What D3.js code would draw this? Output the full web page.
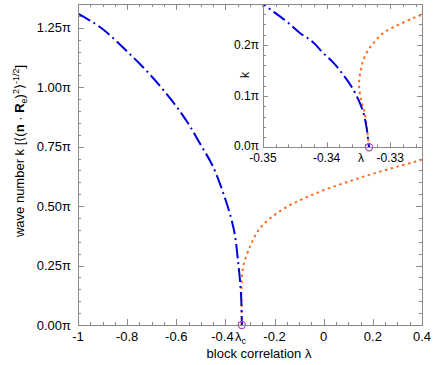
<!DOCTYPE html>
<html>
<head>
<meta charset="utf-8">
<script src="https://cdn.jsdelivr.net/npm/d3@7"></script>
<style>
  body { margin: 0; background: #fff; }
  text { font-family: "Liberation Sans", Arial, sans-serif; }
</style>
</head>
<body>
<svg id="chart" width="436" height="365"></svg>
<script>
// blue branch (k in units of pi)
let blueLambda = [-1, -0.95, -0.9, -0.85, -0.8, -0.75, -0.7, -0.65, -0.6, -0.55, -0.5, -0.45, -0.4, -0.375, -0.36,
    -0.3494, -0.3463, -0.3442, -0.3423, -0.3405, -0.3389, -0.3374, -0.3361, -0.335, -0.3342, -0.3337, -0.3334, -0.33333]
let blueK = [1.31, 1.28, 1.245, 1.2, 1.15, 1.1, 1.045, 0.985, 0.92, 0.845, 0.757, 0.665, 0.528, 0.442, 0.37,
    0.2745, 0.246, 0.2235, 0.207, 0.184, 0.165, 0.142, 0.119, 0.093, 0.067, 0.037, 0.008, 0]

// orange branch
let orangeLambda = [-0.33333, -0.334, -0.3346, -0.3349, -0.3346, -0.3342, -0.3334, -0.3324, -0.3311, -0.3292, -0.3272, -0.325,
    -0.3, -0.275, -0.25, -0.2, -0.15, -0.1, -0.05, 0, 0.1, 0.2, 0.3, 0.4]
let orangeK = [0, 0.067, 0.093, 0.125, 0.152, 0.171, 0.191, 0.207, 0.2235, 0.2365, 0.248, 0.259,
    0.33, 0.383, 0.418, 0.463, 0.497, 0.523, 0.546, 0.567, 0.603, 0.636, 0.666, 0.695]

let lambdaC = -1 / 3

let xTicks = [-1, -0.8, -0.6, -0.4, -0.2, 0, 0.2, 0.4]
let yTicks = [0, 0.25, 0.5, 0.75, 1, 1.25]
let insetXTicks = [-0.35, -0.34, -0.33]
let insetYTicks = [0, 0.1, 0.2]

let blueData = blueLambda.map((l, i) => [l, blueK[i]])
let orangeData = orangeLambda.map((l, i) => [l, orangeK[i]])

let svg = d3.select('#chart')
let frameColor = '#8a8a8a'

let rng = (a, b, step) => {
    let out = []
    let n = Math.round((b - a) / step)
    for (let i = 0; i <= n; i++) out.push(Math.round((a + i * step) * 10000) / 10000)
    return out
}

let drawPanel = (g, opt) => {
    let x = opt.x, y = opt.y
    let [x0, x1] = x.range()
    let [y0, y1] = y.range()

    g.append('rect')
        .attr('x', x0).attr('y', y1)
        .attr('width', x1 - x0).attr('height', y0 - y1)
        .attr('fill', '#fff')

    let clipId = opt.name + '-clip'
    g.append('clipPath').attr('id', clipId)
        .append('rect')
        .attr('x', x0).attr('y', y1)
        .attr('width', x1 - x0).attr('height', y0 - y1)

    // minor ticks then major ticks on all four sides, pointing inward
    let tickGroup = g.append('g').attr('stroke', frameColor).attr('stroke-width', 1)
    let addTicks = (vals, len) => {
        vals.forEach(v => {
            let px = Math.round(x(v)) + 0.5
            tickGroup.append('line').attr('x1', px).attr('x2', px).attr('y1', y0).attr('y2', y0 - len)
            tickGroup.append('line').attr('x1', px).attr('x2', px).attr('y1', y1).attr('y2', y1 + len)
        })
    }
    let addYTicks = (vals, len) => {
        vals.forEach(v => {
            let py = Math.round(y(v)) + 0.5
            tickGroup.append('line').attr('y1', py).attr('y2', py).attr('x1', x0).attr('x2', x0 + len)
            tickGroup.append('line').attr('y1', py).attr('y2', py).attr('x1', x1).attr('x2', x1 - len)
        })
    }
    addTicks(opt.xMinor, opt.minorLen)
    addTicks(opt.xMajor, opt.majorLen)
    addYTicks(opt.yMinor, opt.minorLen)
    addYTicks(opt.yMajor, opt.majorLen)

    let line = d3.line()
        .x(d => x(d[0]))
        .y(d => y(d[1]))
        .curve(d3.curveCatmullRom.alpha(0.5))

    let curves = g.append('g').attr('clip-path', 'url(#' + clipId + ')')
    curves.append('path')
        .datum(orangeData)
        .attr('d', line)
        .attr('fill', 'none')
        .attr('stroke', '#ff6a22')
        .attr('stroke-width', 2)
        .attr('stroke-dasharray', '2.5,3.5')
    curves.append('path')
        .datum(blueData)
        .attr('d', line)
        .attr('fill', 'none')
        .attr('stroke', '#0000dd')
        .attr('stroke-width', 2)
        .attr('stroke-dasharray', '14,4,2,4')

    g.append('circle')
        .attr('cx', x(lambdaC)).attr('cy', y(0))
        .attr('r', 3.6)
        .attr('fill', 'none')
        .attr('stroke', '#b044c0')
        .attr('stroke-width', 1.2)

    g.append('rect')
        .attr('x', Math.round(x0) + 0.5).attr('y', Math.round(y1) + 0.5)
        .attr('width', Math.round(x1 - x0)).attr('height', Math.round(y0 - y1))
        .attr('fill', 'none')
        .attr('stroke', frameColor)

    // tick labels
    g.append('g').selectAll('text')
        .data(opt.xMajor)
        .join('text')
        .attr('x', d => x(d) + (opt.xShift ? opt.xShift(d) : 0))
        .attr('y', y0 + opt.xLabelDy)
        .attr('text-anchor', 'middle')
        .attr('font-size', opt.fontSize)
        .text(opt.xFormat)
    g.append('g').selectAll('text')
        .data(opt.yMajor)
        .join('text')
        .attr('x', x0 - opt.yLabelDx)
        .attr('y', d => y(d) + opt.fontSize * 0.36 + (opt.yShift ? opt.yShift(d) : 0))
        .attr('text-anchor', 'end')
        .attr('font-size', opt.fontSize)
        .text(opt.yFormat)
}

// main panel
let xMain = d3.scaleLinear().domain([-1, 0.4]).range([78, 422])
let yMain = d3.scaleLinear().domain([0, 1.35]).range([325, 4])

drawPanel(svg.append('g'), {
    name: 'main', x: xMain, y: yMain,
    xMajor: xTicks, xMinor: rng(-1, 0.4, 0.05),
    yMajor: yTicks, yMinor: rng(0, 1.35, 0.05),
    majorLen: 6, minorLen: 3,
    fontSize: 13, xLabelDy: 16, yLabelDx: 7,
    xShift: d => d === -0.4 ? -3 : 0,
    xFormat: d => String(+d.toFixed(1)),
    yFormat: d => d.toFixed(2) + 'π'
})

svg.append('text')
    .attr('x', 235).attr('y', 341)
    .attr('font-size', 13)
    .text('λ')
    .append('tspan').attr('font-size', 9).attr('dy', 3).text('c')

svg.append('text')
    .attr('x', 259).attr('y', 358)
    .attr('text-anchor', 'middle')
    .attr('font-size', 13)
    .text('block correlation λ')

let yLab = svg.append('text')
    .attr('transform', 'translate(24,151) rotate(-90)')
    .attr('text-anchor', 'middle')
    .attr('font-size', 13)
yLab.append('tspan').text('wave number k [⟨(')
yLab.append('tspan').attr('font-weight', 'bold').text('n')
yLab.append('tspan').text(' · ')
yLab.append('tspan').attr('font-weight', 'bold').text('R')
yLab.append('tspan').attr('font-size', 9).attr('dy', 3).text('e')
yLab.append('tspan').attr('dy', -3).text(')')
yLab.append('tspan').attr('font-size', 9).attr('dy', -5).text('2')
yLab.append('tspan').attr('dy', 5).text('⟩')
yLab.append('tspan').attr('font-size', 9).attr('dy', -5).text('-1/2')
yLab.append('tspan').attr('dy', 5).text(']')

// inset panel
let xIn = d3.scaleLinear().domain([-0.35, -0.325]).range([263, 422])
let yIn = d3.scaleLinear().domain([0, 0.28]).range([147.3, 4])

drawPanel(svg.append('g'), {
    name: 'inset', x: xIn, y: yIn,
    xMajor: insetXTicks, xMinor: rng(-0.35, -0.326, 0.002),
    yMajor: insetYTicks, yMinor: rng(0, 0.28, 0.02),
    majorLen: 5, minorLen: 3,
    fontSize: 12, xLabelDy: 15, yLabelDx: 4,
    yShift: d => d === 0 ? -2 : 0,
    xFormat: d => d.toFixed(2),
    yFormat: d => d.toFixed(1) + 'π'
})

svg.append('text')
    .attr('x', xIn(lambdaC) - 8).attr('y', 162)
    .attr('text-anchor', 'middle')
    .attr('font-size', 12)
    .text('λ')

svg.append('text')
    .attr('transform', 'translate(249,75) rotate(-90)')
    .attr('text-anchor', 'middle')
    .attr('font-size', 12)
    .text('k')
</script>
</body>
</html>
